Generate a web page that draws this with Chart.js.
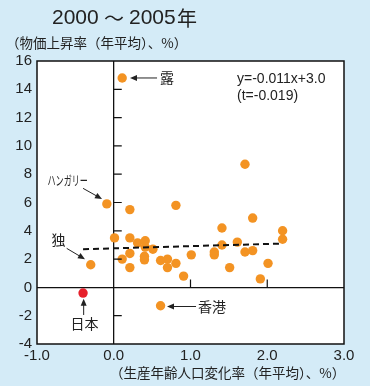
<!DOCTYPE html>
<html lang="ja">
<head>
  <meta charset="UTF-8">
  <title>2000～2005年</title>
  <script src="https://cdn.jsdelivr.net/npm/chart.js"></script>
  <style>
    body {
      margin: 0;
      background-color: #d4ebf7;
    }
    #wrap {
      position: relative;
      width: 370px;
      height: 386px;
    }
  </style>
</head>
<body>
  <div id="wrap">
    <canvas id="scatter" width="370" height="386"></canvas>
  </div>

  <script>
    // 生産年齢人口変化率 (x) と 物価上昇率 (y)
    const popChange = [0.11, -0.09, -0.30, 0.61, 0.21, 0.81, 0.01, 0.21, 0.31, 0.41,
                       0.41, 0.51, 0.21, 0.11, 0.40, 0.40, 0.21, 0.61, 0.70, 0.70,
                       0.81, 0.91, 1.01, 1.31, 1.31, 1.41, 1.41, 1.51, 1.61, 1.71,
                       1.71, 1.81, 1.81, 1.91, 2.01, 2.20, 2.20];
    const inflation = [14.8, 5.9, 1.6, -1.3, 5.5, 5.8, 3.5, 3.5, 3.15, 3.3,
                       2.85, 2.7, 2.4, 2.0, 2.2, 1.95, 1.4, 1.9, 2.0, 1.4,
                       1.7, 0.8, 2.3, 2.5, 2.3, 3.0, 4.2, 1.4, 3.2, 2.5,
                       8.7, 2.6, 4.9, 0.6, 1.7, 4.0, 3.4];
    const japanX = [-0.40];
    const japanY = [-0.4];
    const trendX = [-0.40, 2.20];
    const trendY = [2.7, 3.1];
    const xTicks = [-1, 0, 1, 2, 3];
    const yTicks = [-4, -2, 0, 2, 4, 6, 8, 10, 12, 14, 16];

    const toPoints = (xs, ys) => xs.map((x, i) => ({ x: x, y: ys[i] }));

    const numFont = 'Liberation Sans, Arial, sans-serif';
    const jpFont = '"Noto Sans CJK JP", sans-serif';

    function arrow(ctx, x1, y1, x2, y2) {
      const a = Math.atan2(y2 - y1, x2 - x1);
      ctx.beginPath();
      ctx.moveTo(x1, y1);
      ctx.lineTo(x2 - 5 * Math.cos(a), y2 - 5 * Math.sin(a));
      ctx.stroke();
      ctx.beginPath();
      ctx.moveTo(x2, y2);
      ctx.lineTo(x2 - 7 * Math.cos(a) + 3 * Math.sin(a), y2 - 7 * Math.sin(a) - 3 * Math.cos(a));
      ctx.lineTo(x2 - 7 * Math.cos(a) - 3 * Math.sin(a), y2 - 7 * Math.sin(a) + 3 * Math.cos(a));
      ctx.closePath();
      ctx.fill();
    }

    const decor = {
      id: 'decor',
      beforeDraw(chart) {
        const { ctx, chartArea: a } = chart;
        ctx.save();
        ctx.fillStyle = '#d4ebf7';
        ctx.fillRect(0, 0, chart.width, chart.height);
        ctx.fillStyle = '#ffffff';
        ctx.fillRect(a.left, a.top, a.right - a.left, a.bottom - a.top);
        ctx.restore();
      },
      afterDatasetsDraw(chart) {
        const { ctx, chartArea: a } = chart;
        const xs = chart.scales.x, ys = chart.scales.y;
        const px = v => xs.getPixelForValue(v);
        const py = v => ys.getPixelForValue(v);
        ctx.save();

        // frame
        ctx.strokeStyle = '#111';
        ctx.lineWidth = 1.5;
        ctx.strokeRect(a.left, a.top, a.right - a.left, a.bottom - a.top);

        // small ticks on the zero lines
        ctx.lineWidth = 1.2;
        ctx.beginPath();
        yTicks.forEach(v => {
          if (v === 0 || v === yTicks[0] || v === yTicks[yTicks.length - 1]) return;
          ctx.moveTo(px(0), py(v));
          ctx.lineTo(px(0) + 8, py(v));
        });
        xTicks.forEach(v => {
          if (v <= 0 || v === xTicks[xTicks.length - 1]) return;
          ctx.moveTo(px(v), py(0));
          ctx.lineTo(px(v), py(0) - 8);
        });
        ctx.stroke();

        // titles
        ctx.fillStyle = '#222';
        ctx.textBaseline = 'middle';
        ctx.textAlign = 'left';
        ctx.font = '21px ' + numFont;
        ctx.fillText('2000', 52, 18);
        ctx.font = '20px ' + jpFont;
        ctx.fillText('～', 104, 18);
        ctx.font = '21px ' + numFont;
        ctx.fillText('2005', 129, 18);
        ctx.font = '20px ' + jpFont;
        ctx.fillText('年', 177, 18);

        ctx.font = '13.5px ' + jpFont;
        ctx.fillText('（物価上昇率（年平均）、%）', 6, 43);
        ctx.fillText('（生産年齢人口変化率（年平均）、%）', 110, 373);

        // regression text
        ctx.font = '14px ' + numFont;
        ctx.fillText('y=-0.011x+3.0', px(1.606), py(14.73));
        ctx.fillText('(t=-0.019)', px(1.606), py(13.53));

        // country labels and arrows
        ctx.strokeStyle = '#222';
        ctx.fillStyle = '#222';
        ctx.lineWidth = 1;
        ctx.font = '14px ' + jpFont;
        ctx.fillText('露', px(0.603), py(14.8));
        arrow(ctx, px(0.564), py(14.8), px(0.212), py(14.8));

        ctx.fillText('香港', px(1.098), py(-1.35));
        arrow(ctx, px(1.072), py(-1.35), px(0.694), py(-1.35));

        ctx.textAlign = 'center';
        // narrow katakana label
        ctx.save();
        ctx.translate(px(-0.6), py(7.59));
        ctx.scale(0.62, 1);
        ctx.font = '13px ' + jpFont;
        ctx.fillText('ハンガリー', 0, 0);
        ctx.restore();
        arrow(ctx, px(-0.40), py(7.0), px(-0.153), py(6.25));

        ctx.font = '14px ' + jpFont;
        ctx.fillText('独', px(-0.72), py(3.35));
        arrow(ctx, px(-0.613), py(2.76), px(-0.375), py(1.99));

        ctx.fillText('日本', px(-0.381), py(-2.59));
        arrow(ctx, px(-0.392), py(-1.95), px(-0.392), py(-0.80));

        ctx.restore();
      }
    };

    const zeroLine = ctx => (ctx.tick && ctx.tick.value === 0) ? '#111' : 'rgba(0,0,0,0)';

    new Chart(document.getElementById('scatter'), {
      type: 'scatter',
      data: {
        datasets: [
          {
            type: 'line',
            data: toPoints(trendX, trendY),
            borderColor: '#111',
            borderWidth: 2,
            borderDash: [6, 4],
            pointRadius: 0,
            fill: false
          },
          {
            data: toPoints(popChange, inflation),
            backgroundColor: '#f39323',
            borderWidth: 0,
            pointRadius: 4.7
          },
          {
            data: toPoints(japanX, japanY),
            backgroundColor: '#e6202b',
            borderWidth: 0,
            pointRadius: 4.7
          }
        ]
      },
      options: {
        responsive: false,
        animation: false,
        layout: { padding: { top: 61, right: 26, left: 0, bottom: 0 } },
        plugins: {
          legend: { display: false },
          tooltip: { enabled: false }
        },
        scales: {
          x: {
            type: 'linear',
            min: -1,
            max: 3,
            afterBuildTicks: s => { s.ticks = xTicks.map(v => ({ value: v })); },
            afterFit: s => { s.height = 42; },
            border: { display: false },
            grid: { color: zeroLine, lineWidth: 1.3, drawTicks: false },
            ticks: {
              padding: 3,
              color: '#222',
              font: { family: numFont, size: 15 },
              callback: v => v.toFixed(1)
            }
          },
          y: {
            min: -4,
            max: 16,
            afterBuildTicks: s => { s.ticks = yTicks.map(v => ({ value: v })); },
            afterFit: s => { s.width = 37; },
            border: { display: false },
            grid: { color: zeroLine, lineWidth: 1.3, drawTicks: false },
            ticks: {
              padding: 5,
              color: '#222',
              font: { family: numFont, size: 15 }
            }
          }
        }
      },
      plugins: [decor]
    });
  </script>
</body>
</html>
